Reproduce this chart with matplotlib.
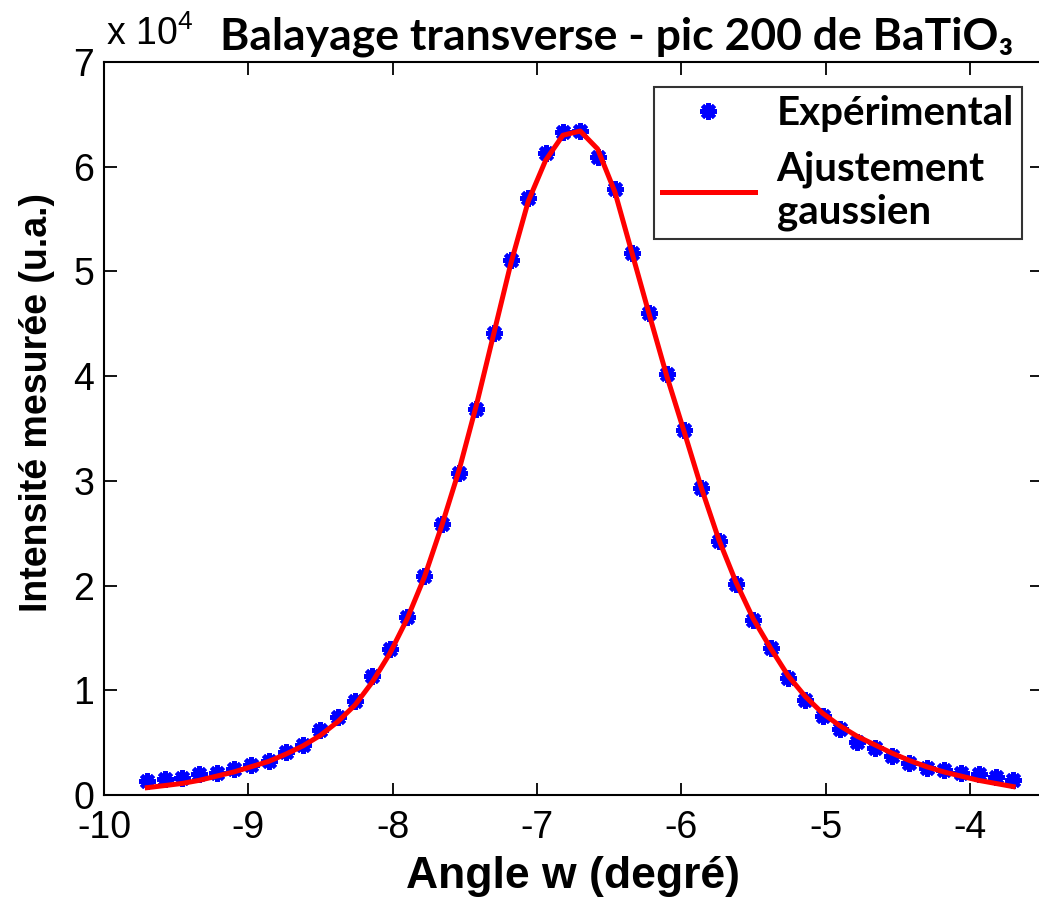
import numpy as np
import matplotlib
matplotlib.use("Agg")
import matplotlib.pyplot as plt

# --- Données (intensités en unités de 10^4) ---
angles = [-9.70, -9.58, -9.46, -9.34, -9.22, -9.10, -8.98, -8.86, -8.74, -8.62,
          -8.50, -8.38, -8.26, -8.14, -8.02, -7.90, -7.78, -7.66, -7.54, -7.42,
          -7.30, -7.18, -7.06, -6.94, -6.82, -6.70, -6.58, -6.46, -6.34, -6.22,
          -6.10, -5.98, -5.86, -5.74, -5.62, -5.50, -5.38, -5.26, -5.14, -5.02,
          -4.90, -4.78, -4.66, -4.54, -4.42, -4.30, -4.18, -4.06, -3.94, -3.82,
          -3.70]

intensite_exp = [0.13, 0.15, 0.16, 0.20, 0.21, 0.25, 0.29, 0.32, 0.41, 0.48,
                 0.62, 0.74, 0.90, 1.14, 1.39, 1.70, 2.09, 2.59, 3.07, 3.69,
                 4.41, 5.11, 5.70, 6.13, 6.33, 6.34, 6.09, 5.79, 5.18, 4.60,
                 4.02, 3.49, 2.93, 2.43, 2.01, 1.67, 1.40, 1.12, 0.91, 0.75,
                 0.63, 0.51, 0.45, 0.37, 0.31, 0.26, 0.24, 0.21, 0.20, 0.17,
                 0.14]

intensite_fit = [0.07, 0.09, 0.11, 0.14, 0.18, 0.22, 0.27, 0.32, 0.39, 0.47,
                 0.57, 0.70, 0.86, 1.08, 1.35, 1.68, 2.08, 2.57, 3.10, 3.72,
                 4.40, 5.08, 5.67, 6.06, 6.30, 6.34, 6.17, 5.76, 5.17, 4.58,
                 4.00, 3.47, 2.93, 2.44, 2.03, 1.68, 1.40, 1.14, 0.94, 0.78,
                 0.66, 0.56, 0.48, 0.40, 0.33, 0.27, 0.22, 0.18, 0.14, 0.11,
                 0.08]

x_ticks = [-10, -9, -8, -7, -6, -5, -4]
y_ticks = [0, 1, 2, 3, 4, 5, 6, 7]

TITRE = "Balayage transverse - pic 200 de BaTiO\u2083"
LABEL_X = "Angle w (degré)"
LABEL_Y = "Intensité mesurée (u.a.)"

plt.rcParams['font.family'] = ['Liberation Sans', 'DejaVu Sans']
plt.rcParams['mathtext.fontset'] = 'custom'
plt.rcParams['mathtext.rm'] = 'Liberation Sans'

fig = plt.figure(figsize=(10.39, 8.99), dpi=100)
ax = fig.add_axes([0.1001, 0.1157, 0.9028, 0.8154])

ax.plot(angles, intensite_exp, linestyle='none', marker=(8, 2, 0),
        markersize=12, markeredgewidth=3.0, color='#0000ff', label='Expérimental')
ax.plot(angles, intensite_fit, color='#ff0000', linewidth=3.6,
        label='Ajustement\ngaussien')

ax.set_xlim(-10, -3.5)
ax.set_ylim(0, 7)
ax.set_xticks(x_ticks)
ax.set_yticks(y_ticks)
ax.set_xticklabels([str(v) for v in x_ticks])
ax.set_yticklabels([str(v) for v in y_ticks])
ax.tick_params(direction='in', length=9, width=1.3, top=True, right=True,
               labelsize=27)
ax.tick_params(axis='x', pad=11)
ax.tick_params(axis='y', pad=7)
for sp in ax.spines.values():
    sp.set_linewidth(1.5)

ax.set_xlabel(LABEL_X, fontsize=32, fontweight='bold', labelpad=7)
ax.set_ylabel(LABEL_Y, fontsize=27, fontweight='bold')
ax.yaxis.set_label_coords(-0.052, 0.535)

# multiplicateur façon MATLAB
ax.text(0.002, 1.012, r'x 10$^{4}$', transform=ax.transAxes, fontsize=27,
        ha='left', va='bottom')

fig.text(0.594, 0.945, TITRE, ha='center', va='baseline', fontsize=32,
         fontweight='bold', family=['Lato', 'DejaVu Sans'])

leg = ax.legend(loc='upper right', bbox_to_anchor=(1022 / 1039, (899 - 87) / 899),
                bbox_transform=fig.transFigure, borderaxespad=0.0,
                fancybox=False, framealpha=1, edgecolor='#333333',
                handlelength=2.3, handletextpad=0.55,
                borderpad=0.2, labelspacing=0.45,
                prop={'family': ['Lato', 'DejaVu Sans'], 'weight': 'bold', 'size': 29})
leg.get_frame().set_linewidth(1.5)

fig.savefig("out.png", dpi=100)
